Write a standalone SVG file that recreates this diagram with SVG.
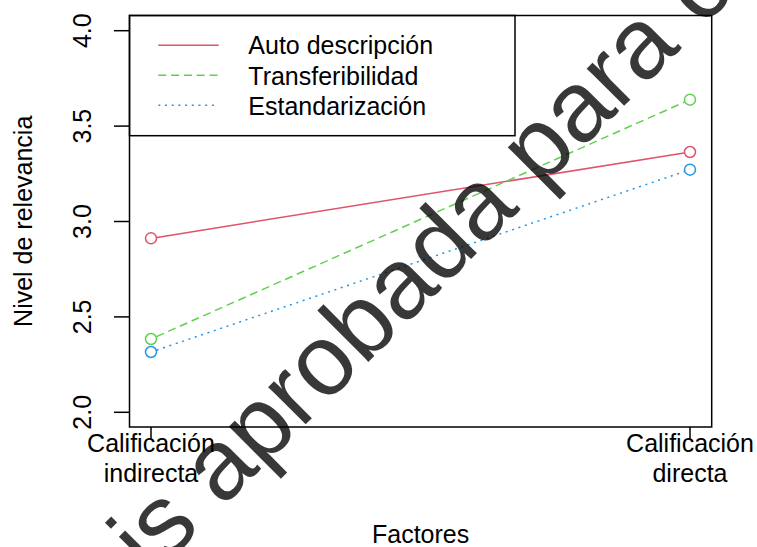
<svg xmlns="http://www.w3.org/2000/svg" width="757" height="547" viewBox="0 0 757 547">
<style>
  text { font-family: "Liberation Sans", Arial, sans-serif; font-size: 25px; fill: #000; }
  .frame { fill: none; stroke: #000; stroke-width: 1.5; }
  .tick { stroke: #000; stroke-width: 1.5; }
  .red { stroke: #DF536B; stroke-width: 1.5; fill: none; }
  .green { stroke: #61D04F; stroke-width: 1.5; fill: none; stroke-dasharray: 8 4.8; }
  .blue { stroke: #2297E6; stroke-width: 1.5; fill: none; stroke-dasharray: 2 4.7; }
  .pt { fill: none; stroke-width: 1.5; }
  .wm { font-size: 100px; fill: #000; fill-opacity: 0.78; }
</style>
<rect width="757" height="547" fill="#fff"/>

<g id="plot-frame">
  <rect class="frame" x="129.5" y="15.5" width="582.2" height="411.5"/>
</g>

<g id="y-axis">
  <line class="tick" x1="114" y1="30.7" x2="129.5" y2="30.7"/>
  <line class="tick" x1="114" y1="126.1" x2="129.5" y2="126.1"/>
  <line class="tick" x1="114" y1="221.5" x2="129.5" y2="221.5"/>
  <line class="tick" x1="114" y1="316.9" x2="129.5" y2="316.9"/>
  <line class="tick" x1="114" y1="412.3" x2="129.5" y2="412.3"/>
  <text transform="translate(91,30.7) rotate(-90)" text-anchor="middle">4.0</text>
  <text transform="translate(91,126.1) rotate(-90)" text-anchor="middle">3.5</text>
  <text transform="translate(91,221.5) rotate(-90)" text-anchor="middle">3.0</text>
  <text transform="translate(91,316.9) rotate(-90)" text-anchor="middle">2.5</text>
  <text transform="translate(91,412.3) rotate(-90)" text-anchor="middle">2.0</text>
  <text transform="translate(32,221.3) rotate(-90)" text-anchor="middle">Nivel de relevancia</text>
</g>

<g id="x-axis">
  <line class="tick" x1="151" y1="427" x2="151" y2="440"/>
  <line class="tick" x1="690" y1="427" x2="690" y2="440"/>
  <text x="151" y="451.7" text-anchor="middle">Calificación</text>
  <text x="151" y="482.3" text-anchor="middle">indirecta</text>
  <text x="690" y="451.7" text-anchor="middle">Calificación</text>
  <text x="690" y="482.3" text-anchor="middle">directa</text>
  <text x="420.6" y="543" text-anchor="middle">Factores</text>
</g>

<g id="series-lines">
  <line class="red" x1="156.9" y1="237.4" x2="684.1" y2="152.9"/>
  <line class="green" x1="156.5" y1="336.6" x2="684.5" y2="102.1"/>
  <line class="blue" x1="156.7" y1="350.1" x2="684.3" y2="171.6"/>
</g>

<g id="series-points">
  <circle class="pt" stroke="#DF536B" cx="151" cy="238.3" r="5.5"/>
  <circle class="pt" stroke="#DF536B" cx="690" cy="152" r="5.5"/>
  <circle class="pt" stroke="#61D04F" cx="151" cy="339" r="5.5"/>
  <circle class="pt" stroke="#61D04F" cx="690" cy="99.7" r="5.5"/>
  <circle class="pt" stroke="#2297E6" cx="151" cy="352" r="5.5"/>
  <circle class="pt" stroke="#2297E6" cx="690" cy="169.7" r="5.5"/>
</g>

<g id="legend">
  <rect class="frame" x="129.5" y="15.5" width="385.5" height="120.2" fill="#fff"/>
  <line class="red" x1="158.3" y1="45.3" x2="218.7" y2="45.3"/>
  <line class="green" x1="158.3" y1="75.3" x2="218.7" y2="75.3"/>
  <line class="blue" x1="158.3" y1="105.3" x2="218.7" y2="105.3"/>
  <text x="248.3" y="54.3">Auto descripción</text>
  <text x="248.3" y="84.5">Transferibilidad</text>
  <text x="248.3" y="114.5">Estandarización</text>
</g>

<text class="wm" transform="translate(151.4,578.7) rotate(-45)">is aprobada para c</text>
</svg>
